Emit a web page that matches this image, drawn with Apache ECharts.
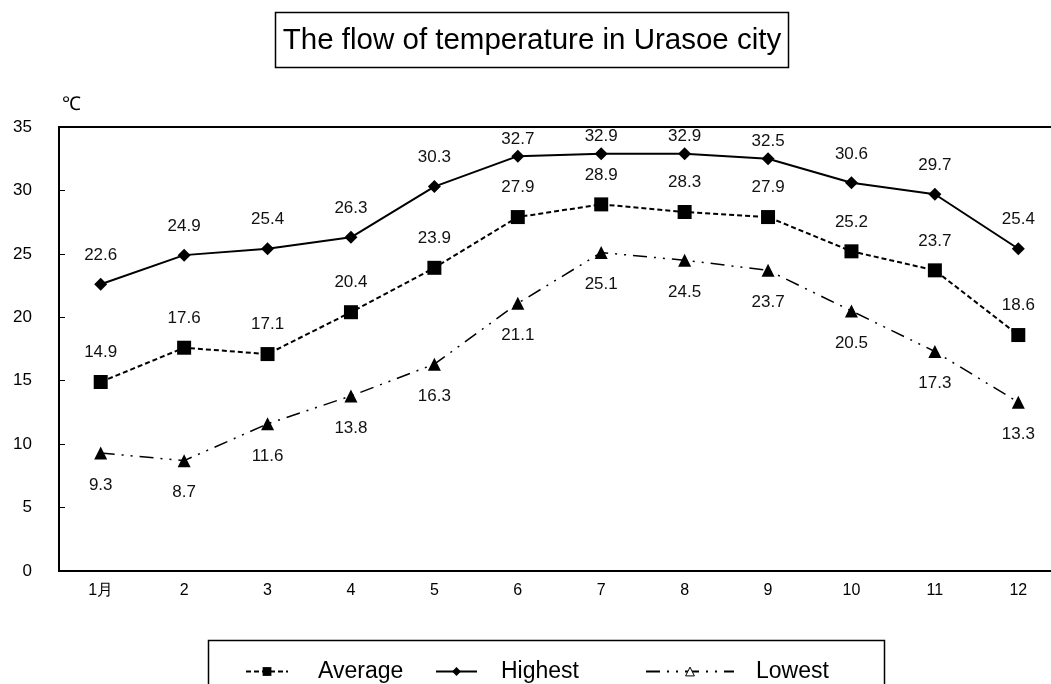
<!DOCTYPE html>
<html lang="en">
<head>
    <meta charset="UTF-8">
    <title>The flow of temperature in Urasoe city</title>
    <script src="https://cdn.jsdelivr.net/npm/echarts/dist/echarts.min.js"></script>
    <style>
        body { margin: 0; background: #fff; overflow: hidden; }
    </style>
</head>
<body>
    <!-- the original chart is wider than the picture; its right edge is cut off -->
    <div id="chart" style="width: 1064px; height: 684px;"></div>

    <script>
        const months = ['1月', '2', '3', '4', '5', '6', '7', '8', '9', '10', '11', '12'];
        const average = [14.9, 17.6, 17.1, 20.4, 23.9, 27.9, 28.9, 28.3, 27.9, 25.2, 23.7, 18.6];
        const highest = [22.6, 24.9, 25.4, 26.3, 30.3, 32.7, 32.9, 32.9, 32.5, 30.6, 29.7, 25.4];
        const lowest = [9.3, 8.7, 11.6, 13.8, 16.3, 21.1, 25.1, 24.5, 23.7, 20.5, 17.3, 13.3];

        const labelFont = 'Liberation Sans Narrow, Liberation Sans, sans-serif';

        let chart = echarts.init(document.getElementById('chart'));

        // one legend per item so each can sit where the original has it
        function legendAt(name, left, width, pad, extra) {
            return {
                left: left,
                top: 655,
                itemWidth: width,
                itemHeight: 11,
                textStyle: { fontFamily: 'Liberation Sans, Arial', fontSize: 23, color: '#000', padding: [0, 0, 0, pad] },
                data: [Object.assign({ name: name }, extra || {})]
            };
        }

        // labels near the top of the plot sit closer to their points
        let highestData = highest.map(v => v > 32 ? { value: v, label: { distance: 2 } } : v);

        let option = {
            animation: false,
            backgroundColor: '#fff',
            title: {
                text: 'The flow of temperature in Urasoe city',
                left: 'center',
                top: 21,
                textStyle: { fontFamily: 'Liberation Sans, Arial', fontSize: 29.5, fontWeight: 'normal', color: '#000' }
            },
            graphic: [
                { type: 'rect', shape: { x: 275.5, y: 12.5, width: 513, height: 55 },
                  style: { fill: 'none', stroke: '#000', lineWidth: 1.5 } },
                { type: 'rect', shape: { x: 208.5, y: 640.5, width: 676, height: 60 },
                  style: { fill: 'none', stroke: '#000', lineWidth: 1.5 } },
                { type: 'text', left: 62, top: 95,
                  style: { text: '℃', fontSize: 19, fontFamily: labelFont, fill: '#000' } }
            ],
            legend: [
                legendAt('Average', 240, 42, 25),
                legendAt('Highest', 430, 41, 19),
                legendAt('Lowest', 640, 88, 17, { itemStyle: { color: '#fff', borderColor: '#000', borderWidth: 1 } })
            ],
            grid: { left: 59, right: 4, top: 127, bottom: 113, show: true, borderColor: '#000', borderWidth: 2 },
            xAxis: {
                type: 'category',
                data: months,
                boundaryGap: true,
                axisLine: { lineStyle: { color: '#000', width: 2 } },
                axisTick: { inside: true, length: 5, lineStyle: { color: '#000' } },
                axisLabel: { color: '#000', fontSize: 16, fontFamily: labelFont, margin: 12 }
            },
            yAxis: {
                type: 'value',
                min: 0,
                max: 35,
                interval: 5,
                splitLine: { show: false },
                axisLine: { show: true, lineStyle: { color: '#000', width: 2 } },
                axisTick: { show: true, inside: true, length: 6, lineStyle: { color: '#000' } },
                axisLabel: { color: '#000', fontSize: 17, fontFamily: labelFont, margin: 27 }
            },
            series: [
                {
                    name: 'Average',
                    type: 'line',
                    data: average,
                    symbol: 'rect',
                    symbolSize: 14,
                    itemStyle: { color: '#000' },
                    lineStyle: { color: '#000', width: 2, type: [5, 3] },
                    label: { show: true, position: 'top', distance: 14, color: '#111', fontSize: 17, fontFamily: labelFont }
                },
                {
                    name: 'Highest',
                    type: 'line',
                    data: highestData,
                    symbol: 'diamond',
                    symbolSize: 13,
                    itemStyle: { color: '#000' },
                    lineStyle: { color: '#000', width: 2 },
                    label: { show: true, position: 'top', distance: 14, color: '#111', fontSize: 17, fontFamily: labelFont }
                },
                {
                    name: 'Lowest',
                    type: 'line',
                    data: lowest,
                    symbol: 'triangle',
                    symbolSize: 13,
                    itemStyle: { color: '#000' },
                    lineStyle: { color: '#000', width: 1.5, type: [14, 7, 2, 7, 2, 7] },
                    label: { show: true, position: 'bottom', distance: 17, color: '#111', fontSize: 17, fontFamily: labelFont }
                }
            ]
        };

        chart.setOption(option);
    </script>
</body>
</html>
